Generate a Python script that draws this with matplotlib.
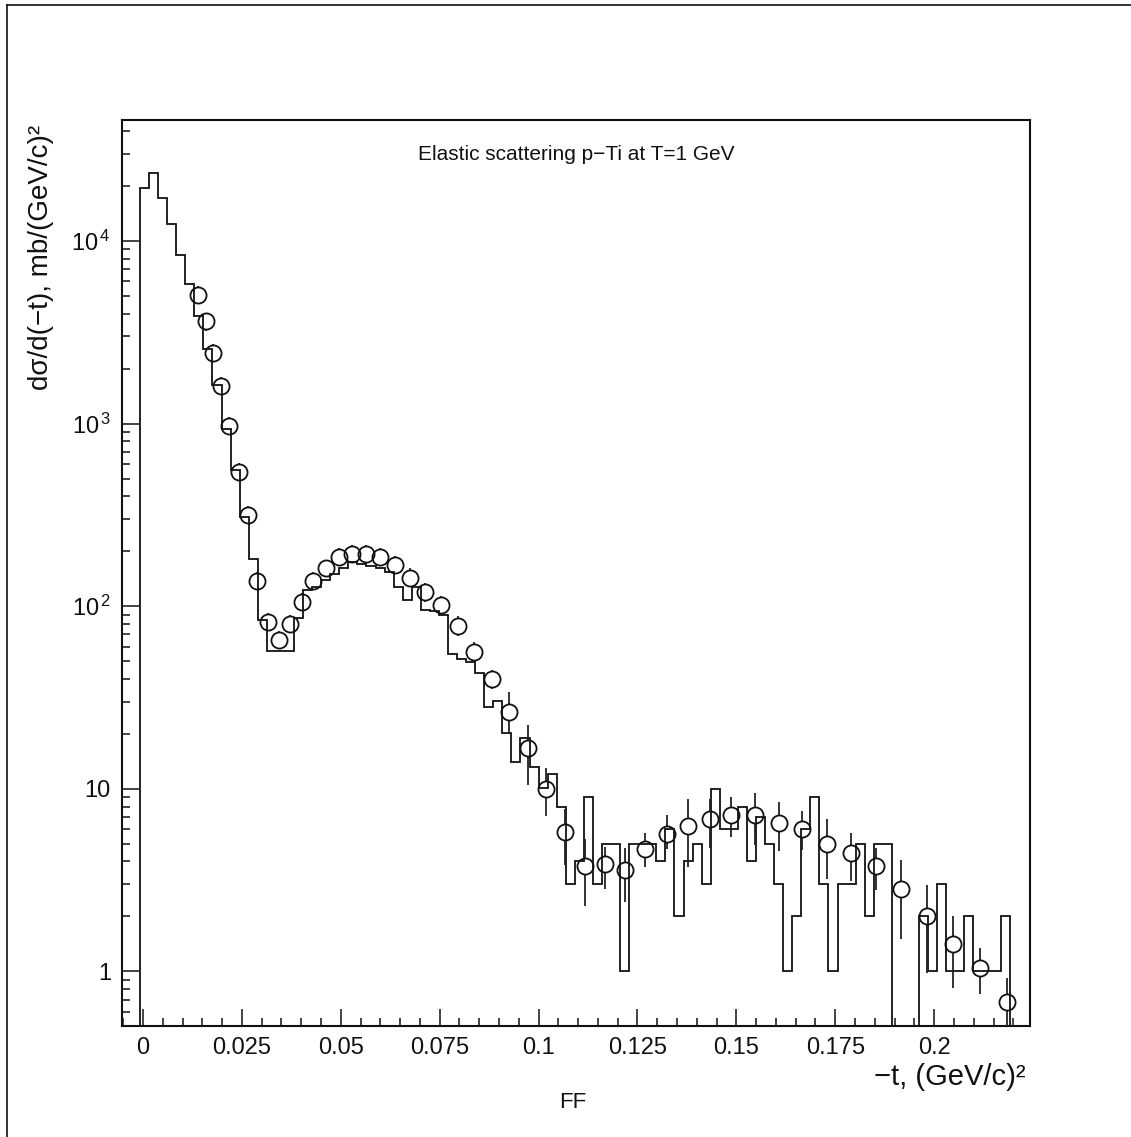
import numpy as np
import matplotlib
matplotlib.use("Agg")
import matplotlib.pyplot as plt
from matplotlib.lines import Line2D
from matplotlib.ticker import FixedLocator, FixedFormatter, LogLocator, MultipleLocator, NullFormatter

# ---------------- data ----------------
# histogram (calculation), equal bins
hist_start = -0.00076
bin_width = 0.00229
hist_counts = [19500, 23400, 17200, 12300, 8350, 5770, 3885, 2563, 1622, 929,
               556, 308, 181, 84, 56.8, 56.8, 56.8, 85.8, 122.5, 127,
               139, 150, 161, 174, 170, 166, 161, 153, 127, 108,
               127, 95, 94, 89, 54.5, 51.3, 49.2, 43.1, 28.1, 30.1,
               20.1, 14.1, 18.9, 13.1, 10.07, 12.0, 8, 3, 4, 9,
               3, 5, 5, 1, 5, 5, 5, 4, 6, 2,
               4, 5, 3, 10, 6, 6, 8, 4, 7, 5,
               3, 1, 2, 6, 9, 3, 1, 3, 3, 5,
               2, 5, 5, 0, 0, 0, 2, 1, 3, 1,
               1, 2, 1, 1, 1, 2]

# experimental points
exp_t = [0.01390, 0.01585, 0.01777, 0.01972, 0.02182, 0.02419, 0.02647, 0.02889,
         0.03160, 0.03445, 0.03723, 0.04019, 0.04305, 0.04633, 0.04947, 0.05283,
         0.05637, 0.05991, 0.06362, 0.06749, 0.07136, 0.07540, 0.07970, 0.08375,
         0.08822, 0.09259, 0.09724, 0.10195, 0.10660, 0.11173, 0.11671, 0.12177,
         0.12697, 0.13238, 0.13784, 0.14325, 0.14871, 0.15478, 0.16069, 0.16651,
         0.17283, 0.17889, 0.18521, 0.19153, 0.19826, 0.20483, 0.21158, 0.21833]
exp_val = [5045, 3620, 2437, 1608, 971, 544, 314, 137,
           82, 65, 79.5, 105, 137, 161, 185, 194,
           193, 186, 169, 143, 119, 101, 78, 56,
           39.7, 26.3, 16.7, 10.0, 5.80, 3.77, 3.86, 3.59,
           4.68, 5.68, 6.23, 6.81, 7.22, 7.19, 6.53, 6.05,
           5.01, 4.44, 3.78, 2.82, 2.00, 1.41, 1.05, 0.68]
exp_lo = [4500, 3230, 2180, 1435, 867, 486, 280, 122,
          73, 58, 71, 94, 122, 144, 165, 173,
          172, 166, 151, 128, 105, 89, 69, 49,
          35, 20.0, 10.5, 7.1, 3.83, 2.28, 2.84, 2.39,
          3.72, 4.68, 3.75, 4.76, 5.43, 4.93, 4.56, 4.62,
          3.2, 3.13, 2.79, 1.5, 0.98, 0.81, 0.75, 0.40]
exp_hi = [5650, 4050, 2730, 1800, 1088, 610, 352, 153,
          92, 73, 89, 118, 153, 180, 207, 217,
          216, 208, 189, 161, 134, 114, 88, 63.5,
          45, 33.8, 22.4, 12.95, 7.75, 5.3, 4.8, 4.76,
          5.7, 7.16, 8.75, 8.75, 9.05, 9.5, 8.5, 7.55,
          6.8, 5.7, 4.76, 4.1, 2.98, 2.0, 1.34, 0.92]

x_ticks = [0, 0.025, 0.05, 0.075, 0.1, 0.125, 0.15, 0.175, 0.2]
x_tick_labels = ["0", "0.025", "0.05", "0.075", "0.1", "0.125", "0.15", "0.175", "0.2"]
y_ticks = [1, 10, 100, 1000, 10000]
y_tick_labels = ["1", "10", r"$10^{\,2}$", r"$10^{\,3}$", r"$10^{\,4}$"]

title = "Elastic scattering p\u2212Ti at T=1 GeV"
ylabel = "d\u03c3/d(\u2212t), mb/(GeV/c)\u00b2"
xlabel = "\u2212t, (GeV/c)\u00b2"
bottom_text = "FF"

# ---------------- style ----------------
plt.rcParams["font.family"] = ["Liberation Sans", "DejaVu Sans"]
plt.rcParams["mathtext.fontset"] = "custom"
plt.rcParams["mathtext.rm"] = "Liberation Sans"
plt.rcParams["mathtext.it"] = "Liberation Sans:italic"
plt.rcParams["mathtext.bf"] = "Liberation Sans:bold"

W, H = 1131, 1137
fig = plt.figure(figsize=(W / 100, H / 100), dpi=100)
ax_l, ax_r, ax_t, ax_b = 122, 1029.5, 120, 1025.5
ax = fig.add_axes([ax_l / W, 1 - ax_b / H, (ax_r - ax_l) / W, (ax_b - ax_t) / H])

ax.set_yscale("log")
ax.set_xlim(-0.00531, 0.2241)
ax.set_ylim(0.506, 45900)

FLOOR = 1e-3
counts = np.asarray(hist_counts, dtype=float)
edges = hist_start + bin_width * np.arange(len(counts) + 1)
ax.stairs(np.where(counts > 0, counts, FLOOR), edges, baseline=FLOOR,
          color="#111111", lw=1.3, zorder=2)

# error bars, drawn outside the marker as in ROOT
t = np.asarray(exp_t)
v = np.asarray(exp_val)
lo = np.asarray(exp_lo)
hi = np.asarray(exp_hi)
gap = 1.106  # marker radius expressed as factor on the log axis
up_mask = hi > v * gap
dn_mask = lo < v / gap
ax.vlines(t[up_mask], (v * gap)[up_mask], hi[up_mask], color="#222222", lw=1.3, zorder=3)
ax.vlines(t[dn_mask], lo[dn_mask], (v / gap)[dn_mask], color="#222222", lw=1.3, zorder=3)
ax.plot(t, v, "o", ms=11.6, mfc="none", mec="#111111", mew=1.3, zorder=4)

# axes styling
for s in ax.spines.values():
    s.set_linewidth(1.5)
    s.set_color("#111111")

ax.xaxis.set_major_locator(FixedLocator(x_ticks))
ax.xaxis.set_major_formatter(FixedFormatter(x_tick_labels))
ax.xaxis.set_minor_locator(MultipleLocator(0.005))
ax.yaxis.set_major_locator(FixedLocator(y_ticks))
ax.yaxis.set_major_formatter(FixedFormatter(y_tick_labels))
ax.yaxis.set_minor_locator(LogLocator(base=10, subs=np.arange(2, 10)))
ax.yaxis.set_minor_formatter(NullFormatter())

ax.tick_params(which="both", direction="in", top=False, right=False,
               color="#111111", width=1.1, labelsize=17, labelcolor="#111111")
ax.tick_params(which="major", length=12.5, pad=8)
ax.tick_params(which="minor", length=6)

ax.text(0.5, 1 - (155 - ax_t) / (ax_b - ax_t), title, transform=ax.transAxes,
        ha="center", va="center", fontsize=15, color="#111111")
ax.text((41 - ax_l) / (ax_r - ax_l), 1 - (125 - ax_t) / (ax_b - ax_t), ylabel,
        transform=ax.transAxes, rotation=90, ha="center", va="top",
        fontsize=20, color="#111111")
ax.text((1025 - ax_l) / (ax_r - ax_l), -(1077 - ax_b) / (ax_b - ax_t), xlabel,
        transform=ax.transAxes, ha="right", va="center", fontsize=21, color="#111111")
fig.text(573 / W, 1 - 1103 / H, bottom_text, ha="center", va="center",
         fontsize=16, color="#111111")

# page frame
fig.add_artist(Line2D([7 / W, 7 / W], [0, 1 - 5 / H], transform=fig.transFigure,
                      color="#111111", lw=1.2))
fig.add_artist(Line2D([7 / W, 1], [1 - 5 / H, 1 - 5 / H], transform=fig.transFigure,
                      color="#111111", lw=1.2))

fig.savefig("out.png", dpi=100)
